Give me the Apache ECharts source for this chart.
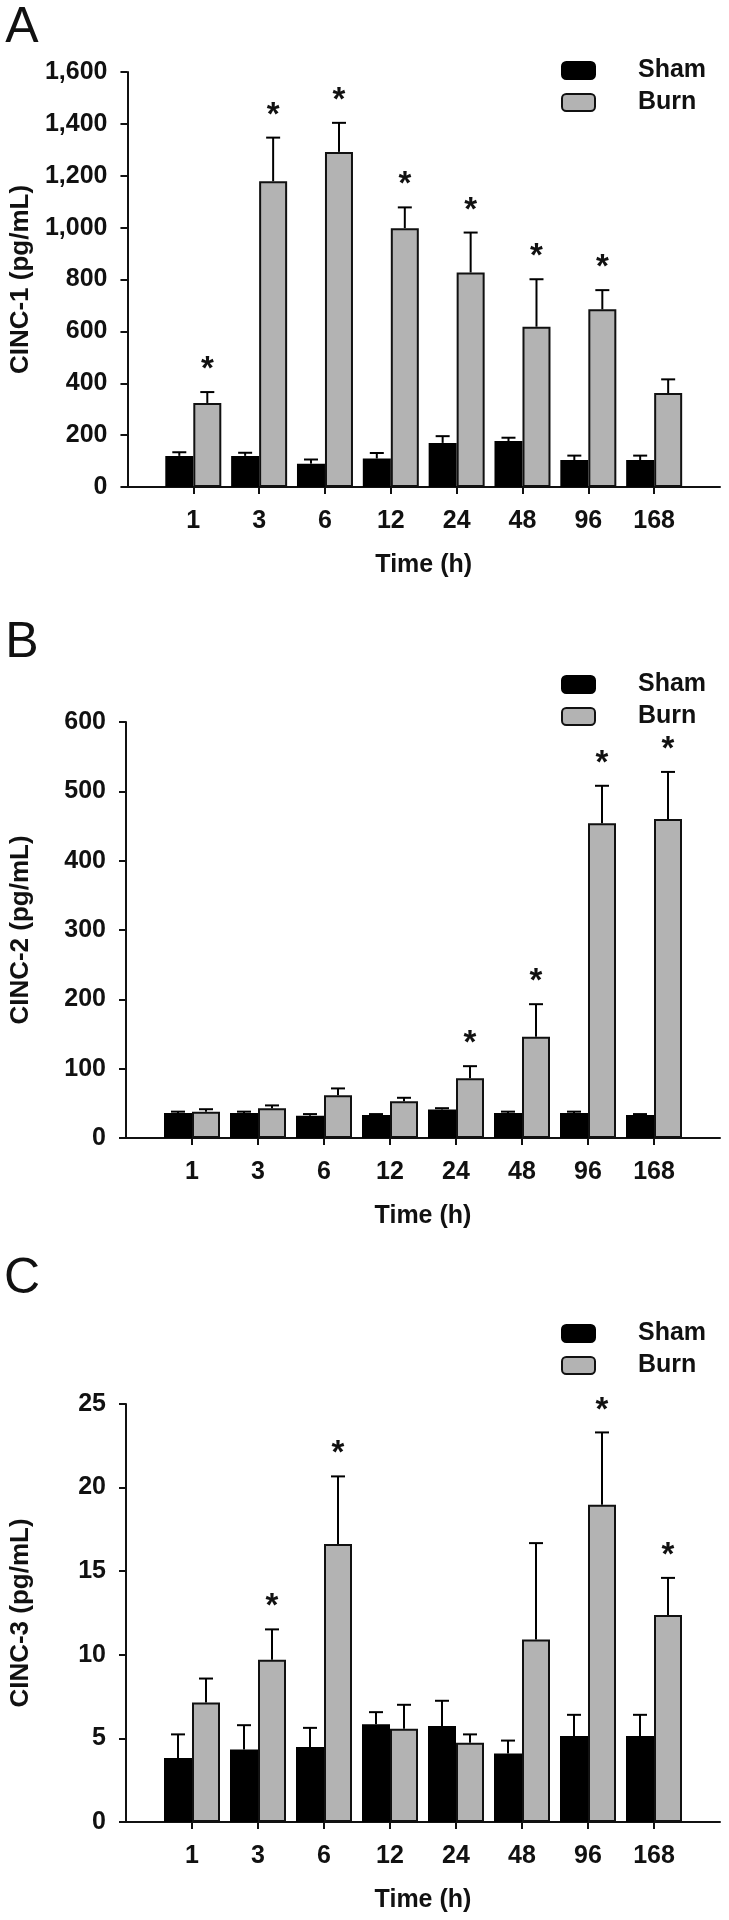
<!DOCTYPE html>
<html>
<head>
<meta charset="utf-8">
<script src="https://cdn.jsdelivr.net/npm/echarts@6/dist/echarts.min.js"></script>
<style>
html,body{margin:0;padding:0;background:#fff;}
#chart{width:729px;height:1920px;}
</style>
</head>
<body>
<div id="chart"></div>
<script>
// ---- data ----
const categories = ['1', '3', '6', '12', '24', '48', '96', '168'];
const seriesNames = ['Sham', 'Burn'];

// Panel A: CINC-1
const shamA = [120, 120, 90, 110, 170, 177, 104, 104];
const shamSemA = [14, 12, 16, 21, 26, 13, 17, 17];
const burnA = [324, 1179, 1292, 998, 827, 618, 685, 362];
const burnSemA = [42, 168, 112, 80, 154, 183, 74, 53];
const sigA = [1, 1, 1, 1, 1, 1, 1, 0];

// Panel B: CINC-2
const shamB = [36, 36, 32, 33, 41, 36, 36, 33];
const shamSemB = [2, 2, 2.5, 1.5, 2, 2, 2, 1.5];
const burnB = [38, 43, 61.5, 53, 86, 146, 454, 460];
const burnSemB = [3.5, 4, 10, 5, 17.6, 47, 54, 68];
const sigB = [0, 0, 0, 0, 1, 1, 1, 1];

// Panel C: CINC-3
const shamC = [3.83, 4.33, 4.48, 5.84, 5.74, 4.09, 5.14, 5.14];
const shamSemC = [1.41, 1.46, 1.15, 0.73, 1.51, 0.78, 1.27, 1.27];
const burnC = [7.14, 9.70, 16.63, 5.58, 4.74, 10.92, 18.98, 12.38];
const burnSemC = [1.44, 1.82, 4.04, 1.43, 0.5, 5.76, 4.32, 2.22];
const sigC = [0, 1, 1, 0, 0, 0, 1, 1];

// y-axis settings
const yTitles = ['CINC-1 (pg/mL)', 'CINC-2 (pg/mL)', 'CINC-3 (pg/mL)'];
const yMax = [1600, 600, 25];
const yInterval = [200, 100, 5];
const xTitle = 'Time (h)';
const panelLetters = ['A', 'B', 'C'];

// ---- build ----
const FONT = '"Liberation Sans", Arial, sans-serif';
const GRAY = '#b3b3b3';
const INK = '#111';
const BAR_W = 28;
const HALF = 14;

const panels = [
  {sham: shamA, shamSem: shamSemA, burn: burnA, burnSem: burnSemA, sig: sigA},
  {sham: shamB, shamSem: shamSemB, burn: burnB, burnSem: burnSemB, sig: sigB},
  {sham: shamC, shamSem: shamSemC, burn: burnC, burnSem: burnSemC, sig: sigC}
];

// layout (pixels) per panel
const layout = [
  {top: 72, height: 415, legendTop: 53, letterY: 28},
  {top: 722, height: 416, legendTop: 667, letterY: 643},
  {top: 1404, height: 418, legendTop: 1316, letterY: 1279}
];

const padCats = [''].concat(categories, ['']);
const pad = arr => [null].concat(arr, [null]);

const grids = [], xAxes = [], yAxes = [], series = [], legends = [], graphics = [];

panels.forEach((p, k) => {
  const L = layout[k];
  grids.push({left: 123, right: 9, top: L.top, height: L.height, containLabel: false});
  xAxes.push({
    type: 'category', gridIndex: k, data: padCats, boundaryGap: false,
    name: xTitle, nameLocation: 'middle', nameGap: 66,
    nameTextStyle: {fontFamily: FONT, fontWeight: 'bold', fontSize: 25, color: INK},
    axisLine: {show: true, onZero: false, lineStyle: {color: INK, width: 2}},
    axisTick: {show: true, length: 7, lineStyle: {color: INK, width: 2},
      interval: (i) => i > 0 && i < padCats.length - 1},
    axisLabel: {interval: 0, margin: 22, fontFamily: FONT, fontWeight: 'bold', fontSize: 25, color: INK},
    splitLine: {show: false}
  });
  yAxes.push({
    type: 'value', gridIndex: k, min: 0, max: yMax[k], interval: yInterval[k],
    name: yTitles[k], nameLocation: 'middle', nameGap: 92, nameRotate: 90,
    nameTextStyle: {fontFamily: FONT, fontWeight: 'bold', fontSize: 26, color: INK},
    axisLine: {show: true, lineStyle: {color: INK, width: 2}},
    axisTick: {show: true, length: 7, lineStyle: {color: INK, width: 2}},
    axisLabel: {margin: 20, fontFamily: FONT, fontWeight: 'bold', fontSize: 25, color: INK,
      formatter: v => v.toLocaleString('en-US')},
    splitLine: {show: false}
  });
  series.push({
    name: seriesNames[0], type: 'bar', xAxisIndex: k, yAxisIndex: k,
    data: pad(p.sham), barWidth: BAR_W, barGap: '0%',
    itemStyle: {color: '#000', borderColor: '#000', borderWidth: 2},
    emphasis: {disabled: true}
  });
  series.push({
    name: seriesNames[1], type: 'bar', xAxisIndex: k, yAxisIndex: k,
    data: pad(p.burn), barWidth: BAR_W, barGap: '0%',
    itemStyle: {color: GRAY, borderColor: INK, borderWidth: 2},
    emphasis: {disabled: true}
  });
  const errData = categories.map((c, i) => [i + 1, p.sham[i], p.shamSem[i], p.burn[i], p.burnSem[i], p.sig[i]]);
  series.push({
    type: 'custom', xAxisIndex: k, yAxisIndex: k, z: 5, clip: false,
    encode: {x: 0, y: [1, 3]},
    data: errData,
    renderItem: (params, api) => {
      const xi = api.value(0);
      const cx = api.coord([xi, 0])[0];
      const children = [];
      const groups = [
        {m: api.value(1), s: api.value(2), dx: -HALF},
        {m: api.value(3), s: api.value(4), dx: HALF}
      ];
      let burnTop = 0;
      groups.forEach((g, gi) => {
        const y0 = api.coord([xi, g.m])[1];
        const y1 = api.coord([xi, g.m + g.s])[1];
        const x = cx + g.dx;
        if (gi === 1) burnTop = y1;
        children.push({type: 'line', shape: {x1: x, y1: y0, x2: x, y2: y1},
          style: {stroke: '#000', lineWidth: 2}});
        children.push({type: 'line', shape: {x1: x - 7, y1: y1, x2: x + 7, y2: y1},
          style: {stroke: '#000', lineWidth: 2}});
      });
      if (api.value(5)) {
        children.push({type: 'text', x: cx + HALF, y: burnTop - 22,
          style: {text: '*', fontFamily: FONT, fontWeight: 'bold', fontSize: 33,
            fill: INK, align: 'center', verticalAlign: 'middle'}});
      }
      return {type: 'group', children};
    }
  });
  legends.push({
    data: seriesNames, orient: 'vertical', left: 556, top: L.legendTop,
    itemWidth: 33, itemHeight: 17, itemGap: 7, selectedMode: false,
    textStyle: {fontFamily: FONT, fontWeight: 'bold', fontSize: 25, color: INK,
      lineHeight: 25, padding: [0, 0, 0, 38]}
  });
  graphics.push({type: 'text', x: 22, y: L.letterY,
    style: {text: panelLetters[k], fontFamily: FONT, fontSize: 50, fill: INK,
      align: 'center', verticalAlign: 'middle'}});
});

const chart = echarts.init(document.getElementById('chart'), null, {renderer: 'canvas'});
chart.setOption({
  animation: false,
  backgroundColor: '#fff',
  grid: grids, xAxis: xAxes, yAxis: yAxes, series: series,
  legend: legends, graphic: graphics, tooltip: {show: false}
});
</script>
</body>
</html>
